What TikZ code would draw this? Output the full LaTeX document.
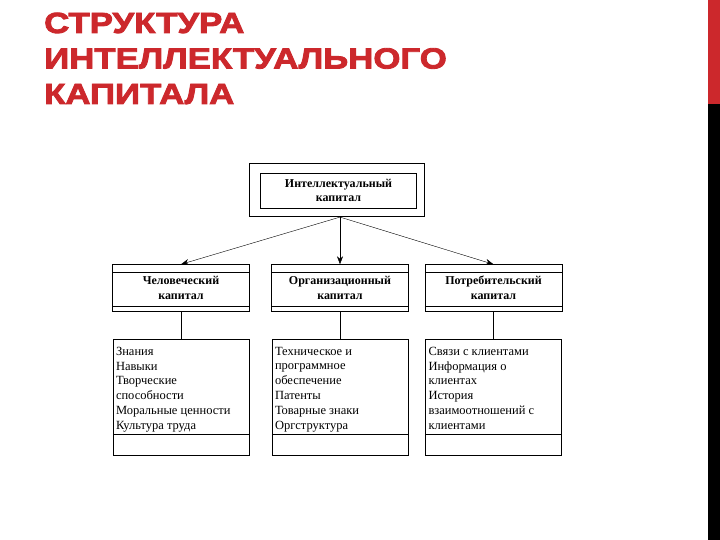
\documentclass[tikz,border=0pt]{standalone}
\usepackage{fontspec}
\setmainfont{Liberation Serif}
\newfontfamily\titlefont[FakeStretch=1.2, FakeBold=3]{Liberation Sans Bold}
\usetikzlibrary{arrows.meta}
\definecolor{titlered}{RGB}{204,40,44}

\begin{document}
\begin{tikzpicture}
[x=1pt, y=-1pt,
 every node/.style={font=\fontsize{12.5}{14.8}\selectfont, align=center, inner sep=0pt},
 midbox/.style={draw, minimum width=137pt, minimum height=47pt, font=\bfseries\fontsize{12}{14.5}\selectfont},
 lowbox/.style={draw, minimum width=136pt, minimum height=116pt},
 listtext/.style={anchor=north west, align=left},
 link/.style={-{Stealth[length=8pt, width=6pt]}}]
\useasboundingbox (0,0) rectangle (720,540);
% side bar
\fill [titlered] (708,0) rectangle (720,104);
\fill [black] (708,104) rectangle (720,540);
% title
\node (title) [anchor=north west, align=left, text=titlered,
  font=\titlefont\fontsize{29}{35.5}\selectfont] at (44,12.5)
  {СТРУКТУРА\\ИНТЕЛЛЕКТУАЛЬНОГО\\КАПИТАЛА};
% top box
\node (top) at (337,190) [draw, line width=1.2pt, minimum width=175pt, minimum height=53pt] {};
\node (topin) at (338.5,190.5) [draw, minimum width=156pt, minimum height=35pt,
  font=\bfseries\fontsize{12}{14.5}\selectfont] {Интеллектуальный\\капитал};
% middle row
\node (hum) at (181,288) [midbox] {Человеческий\\капитал};
\node (org) at (340,288) [midbox] {Организационный\\капитал};
\node (cons) at (493.5,288) [midbox] {Потребительский\\капитал};
\foreach \n in {hum, org, cons} {
  \draw ([yshift=-8pt]\n.north west) -- ([yshift=-8pt]\n.north east);
  \draw ([yshift=6pt]\n.south west) -- ([yshift=6pt]\n.south east);
}
% lower row
\node (humlist) at (181,397) [lowbox] {};
\node (orglist) at (340,397) [lowbox] {};
\node (conslist) at (493.5,397) [lowbox] {};
\foreach \n in {humlist, orglist, conslist}
  \draw ([yshift=21pt]\n.south west) -- ([yshift=21pt]\n.south east);
\node (humtext) [listtext] at ([xshift=3pt, yshift=-8pt]humlist.north west)
  {Знания\\Навыки\\Творческие\\способности\\Моральные ценности\\Культура труда};
\node (orgtext) [listtext] at ([xshift=3pt, yshift=-8pt]orglist.north west)
  {Техническое и\\программное\\обеспечение\\Патенты\\Товарные знаки\\Оргструктура};
\node (constext) [listtext] at ([xshift=3pt, yshift=-8pt]conslist.north west)
  {Связи с клиентами\\Информация о\\клиентах\\История\\взаимоотношений с\\клиентами};
% connectors
\coordinate (fork) at (top.south -| org.north);
\draw [link] (fork) -- (hum.north);
\draw [link] (fork) -- (org.north);
\draw [link] (fork) -- (cons.north);
\draw (hum) -- (humlist);
\draw (org) -- (orglist);
\draw (cons) -- (conslist);
\end{tikzpicture}
\end{document}
